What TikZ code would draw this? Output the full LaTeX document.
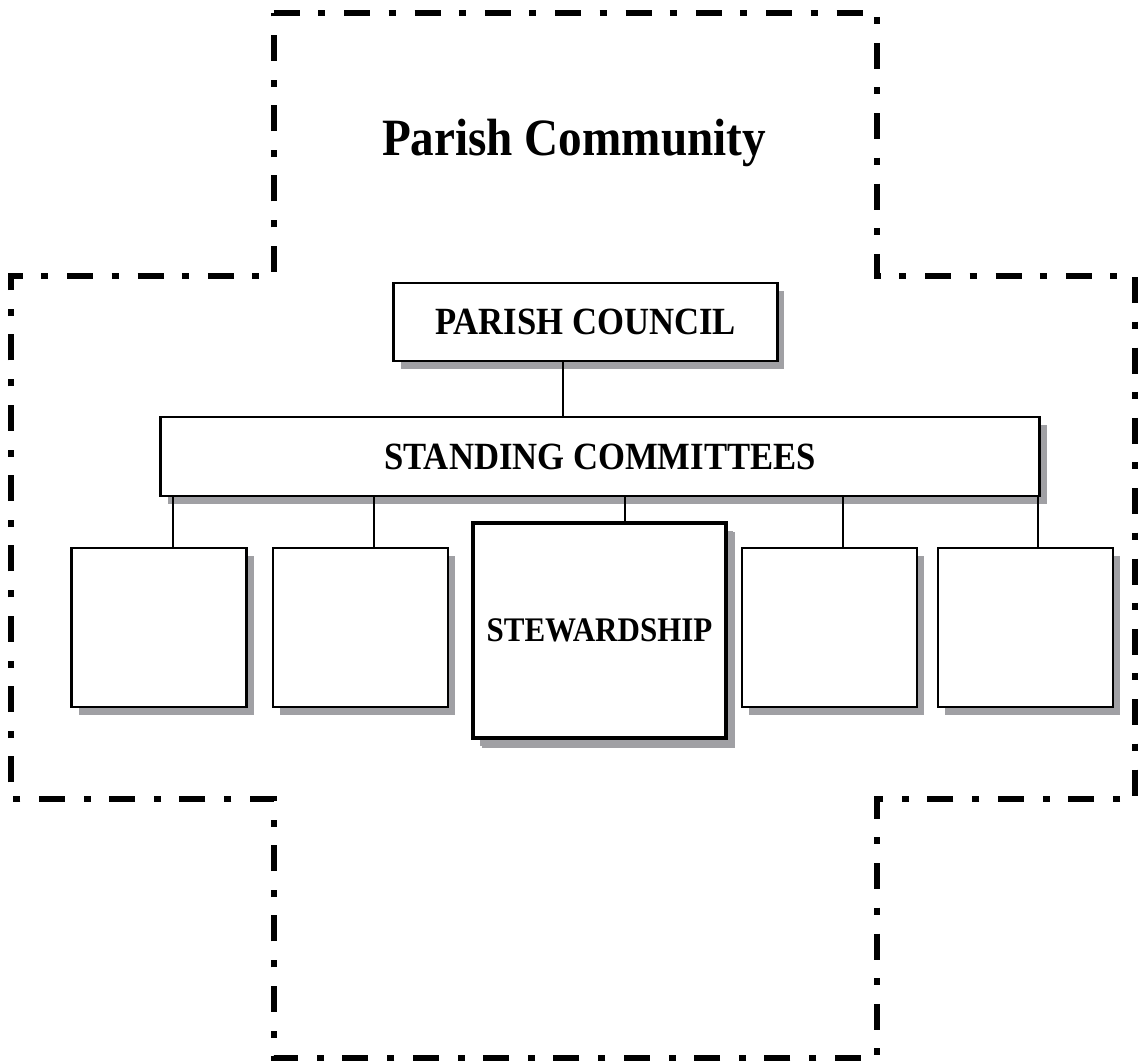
\documentclass[tikz,border=0pt]{standalone}
\usepackage{fontspec}
\setmainfont{Liberation Serif}[FakeStretch=0.9]
\usetikzlibrary{shadows,positioning,calc}
\definecolor{shadowgray}{RGB}{160,160,164}

\begin{document}
\begin{tikzpicture}[x=0.01cm,y=-0.01cm,
    cross/.style={line width=1.85pt,dash pattern=on 7.4pt off 5.2pt on 2pt off 5.4pt},
    box/.style={draw,line width=0.8pt,fill=white,inner sep=0pt,
        font=\bfseries\fontsize{10.95}{12}\selectfont,
        drop shadow={shadow xshift=2.1pt,shadow yshift=-2.2pt,fill=shadowgray,opacity=1}},
    smallbox/.style={box,minimum width=1.75cm,minimum height=1.59cm},
    conn/.style={line width=0.7pt}]
    \useasboundingbox (0,0) rectangle (1138,1061);

    % cross outline
    \draw[cross] (274,13) -- (877,13) -- (877,276) -- (1135,276) -- (1135,799)
        -- (877,799) -- (877,1058) -- (274,1058) -- (274,799) -- (11,799)
        -- (11,276) -- (274,276) -- cycle;
    \node[anchor=base,font=\bfseries\fontsize{14.9}{17}\selectfont] (title) at (574,156) {Parish Community};

    % boxes
    \node[box,minimum width=3.83cm,minimum height=0.78cm] (council) at (585.5,322) {PARISH COUNCIL};
    \node[box,minimum width=8.78cm,minimum height=0.79cm] (standing) at (600,456.5) {STANDING COMMITTEES};
    \node[smallbox] (com1) at (159,627.5) {};
    \node[smallbox] (com2) at (360.5,627.5) {};
    \node[box,line width=1.2pt,minimum width=2.53cm,minimum height=2.15cm,
        font=\bfseries\fontsize{9.8}{11}\selectfont,
        drop shadow={shadow xshift=2.6pt,shadow yshift=-2.7pt,fill=shadowgray,opacity=1}]
        (steward) at (599.5,630.5) {STEWARDSHIP};
    \node[smallbox] (com4) at (829.5,627.5) {};
    \node[smallbox] (com5) at (1025.5,627.5) {};

    % connectors
    \coordinate (x0) at (563,0);
    \coordinate (x1) at (173,0);
    \coordinate (x2) at (374,0);
    \coordinate (x3) at (625,0);
    \coordinate (x4) at (843,0);
    \coordinate (x5) at (1038,0);
    \draw[conn] (council.south -| x0) -- (standing.north -| x0);
    \draw[conn] (standing.south -| x1) -- (com1.north -| x1);
    \draw[conn] (standing.south -| x2) -- (com2.north -| x2);
    \draw[conn] (standing.south -| x3) -- (steward.north -| x3);
    \draw[conn] (standing.south -| x4) -- (com4.north -| x4);
    \draw[conn] (standing.south -| x5) -- (com5.north -| x5);
\end{tikzpicture}
\end{document}
